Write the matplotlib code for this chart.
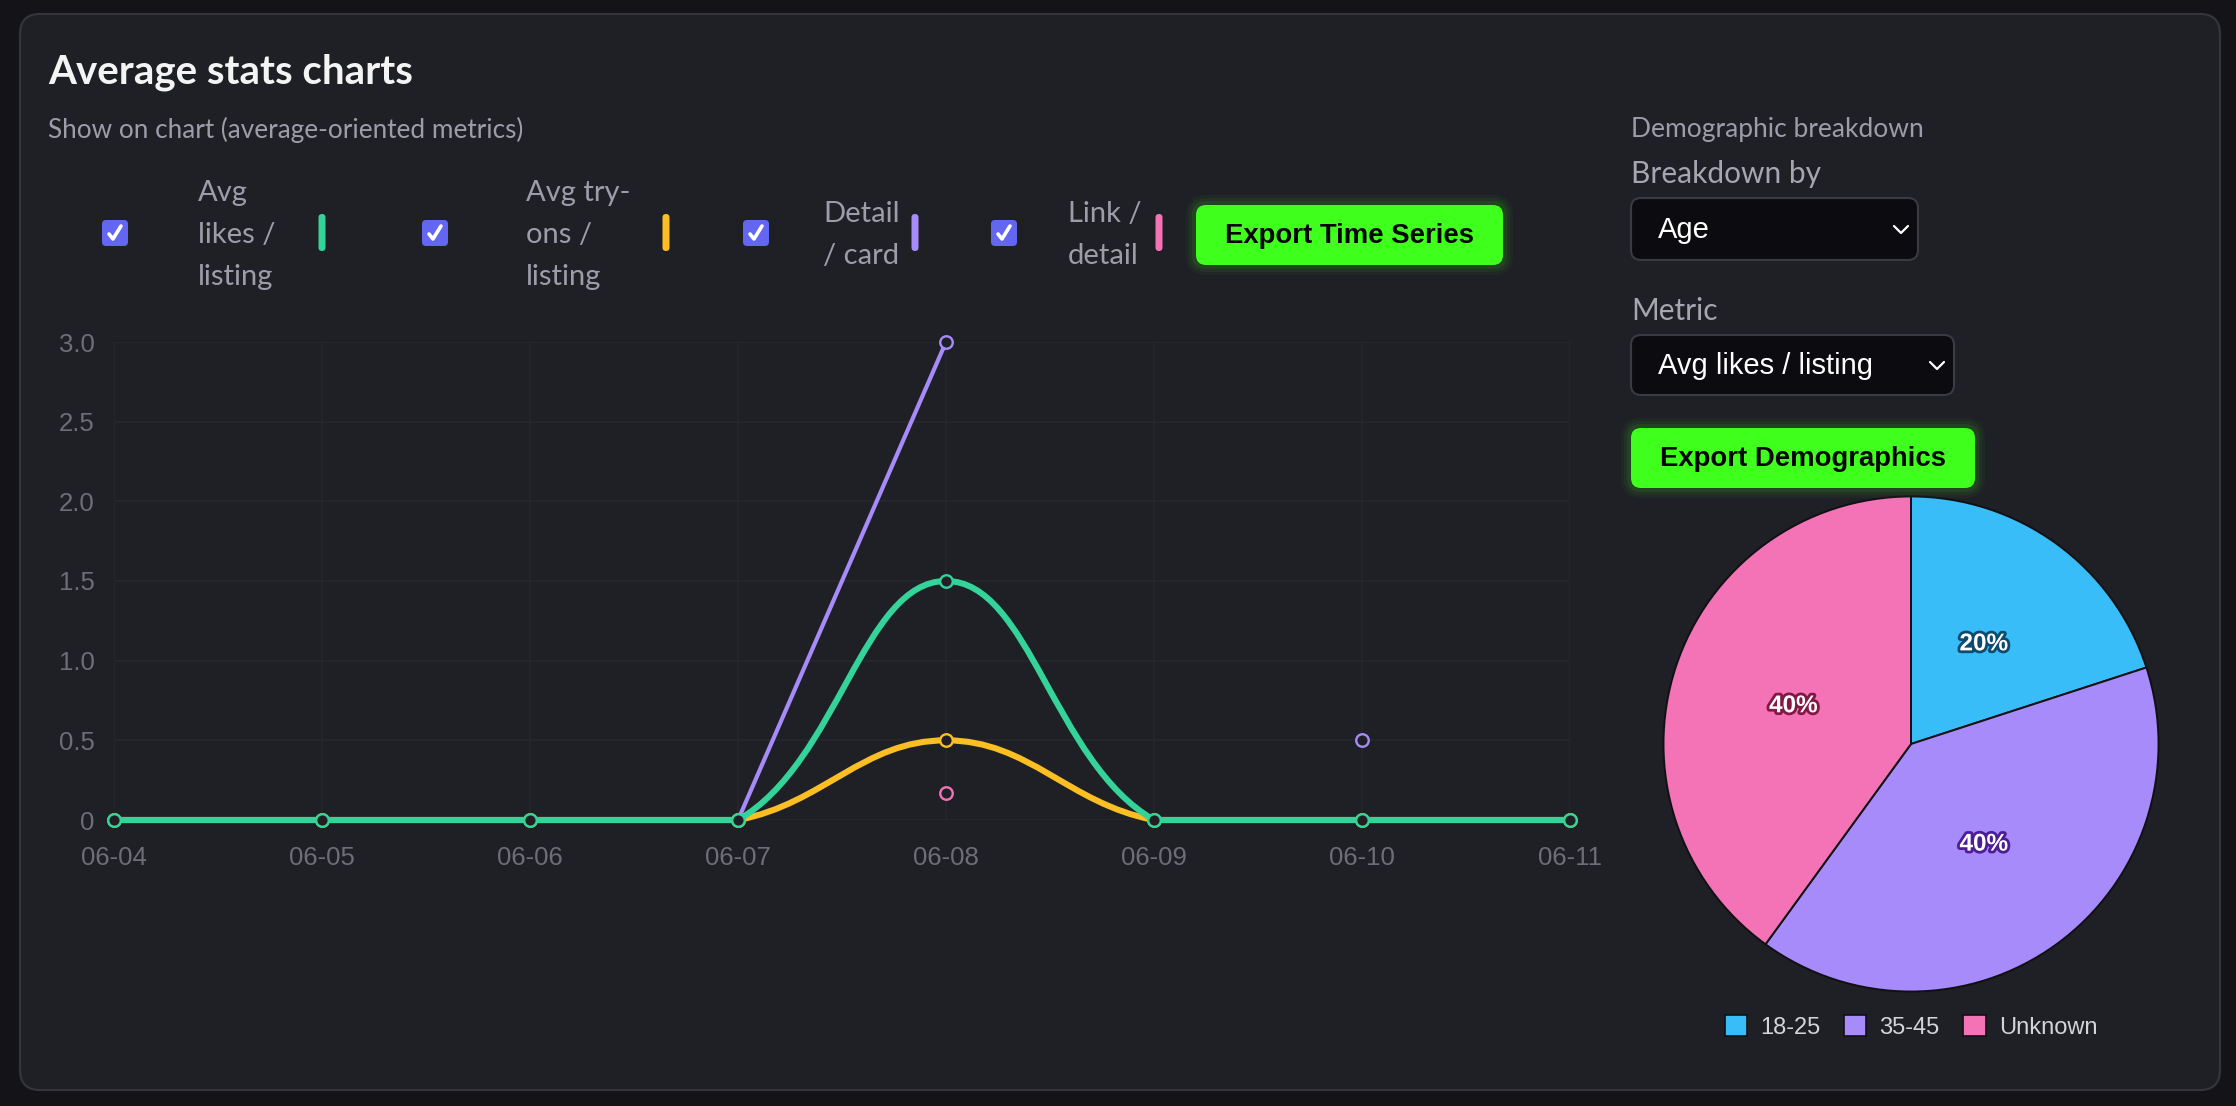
import numpy as np
import matplotlib
matplotlib.use("Agg")
import matplotlib.pyplot as plt
from matplotlib.patches import FancyBboxPatch, Rectangle, PathPatch
from matplotlib.path import Path
from matplotlib.lines import Line2D
from matplotlib.transforms import IdentityTransform
import matplotlib.patheffects as pe

W, H = 2236, 1106

# ---- data ----
dates = ["06-04", "06-05", "06-06", "06-07", "06-08", "06-09", "06-10", "06-11"]
nan = np.nan
avg_likes = [0, 0, 0, 0, 1.5, 0, 0, 0]
avg_tryons = [0, 0, 0, 0, 0.5, 0, 0, 0]
detail_card = [nan, nan, nan, 0, 3.0, nan, 0.5, nan]
link_detail = [nan, nan, nan, nan, 0.17, nan, nan, nan]

series_names = ["Avg\nlikes /\nlisting", "Avg try-\nons /\nlisting", "Detail\n/ card", "Link /\ndetail"]
series_colors = ["#34d399", "#fbbf24", "#a78bfa", "#f472b6"]

age_groups = ["18-25", "35-45", "Unknown"]
age_share = [20, 40, 40]
age_colors = ["#38bdf8", "#a78bfa", "#f472b6"]

UI_FONT = ["Lato", "DejaVu Sans"]
CHART_FONT = ["Liberation Sans", "DejaVu Sans"]
GREEN_BTN = "#3fff1c"

fig = plt.figure(figsize=(W / 100, H / 100), dpi=100)
fig.patch.set_facecolor("#131318")
ID = IdentityTransform()


def box(x0, y0, x1, y1, fc, ec="none", r=10, lw=1, alpha=1, z=1):
    # pixel coords, origin top-left
    p = FancyBboxPatch((x0, H - y1), x1 - x0, y1 - y0,
                       boxstyle="round,pad=0,rounding_size=%g" % r,
                       fc=fc, ec=ec, lw=lw, alpha=alpha, transform=ID, zorder=z)
    fig.add_artist(p)


def txt(x, y, s, **kw):
    kw.setdefault("va", "center")
    kw.setdefault("ha", "left")
    fig.text(x, H - y, s, transform=ID, **kw)


def poly(pts, color, lw, z=5):
    xs = [p[0] for p in pts]
    ys = [H - p[1] for p in pts]
    fig.add_artist(Line2D(xs, ys, color=color, lw=lw, transform=ID, zorder=z,
                          solid_capstyle="round", solid_joinstyle="round"))


def button(x0, y0, x1, y1, label):
    for k, a in [(10, 0.04), (7, 0.06), (4, 0.08)]:
        box(x0 - k, y0 - k, x1 + k, y1 + k, GREEN_BTN, r=10 + k, alpha=a, z=2)
    box(x0, y0, x1, y1, GREEN_BTN, r=10, z=3)
    txt((x0 + x1) / 2, (y0 + y1) / 2 + 1, label, ha="center", color="#050505",
        fontsize=19.8, fontweight="bold", family=CHART_FONT, zorder=4)


def dropdown(x0, y0, x1, y1, label):
    box(x0, y0, x1, y1, "#0b0b10", ec="#3a3b42", r=10, lw=1.5, z=3)
    txt(x0 + 27, (y0 + y1) / 2 + 1, label, color="white", fontsize=21,
        family=CHART_FONT, zorder=4)
    cx, cy = x1 - 17, (y0 + y1) / 2
    poly([(cx - 7, cy - 3), (cx, cy + 4), (cx + 7, cy - 3)], "white", 1.6)


# card
box(20, 14, 2220, 1090, "#1f2026", ec="#35363c", r=20, lw=1.5, z=0)

txt(48, 72, "Average stats charts", color="#f4f4f5", fontsize=29,
    fontweight="bold", family=UI_FONT)
txt(48, 130, "Show on chart (average-oriented metrics)", color="#9d9daa",
    fontsize=18.8, family=UI_FONT)

# checkbox row
cb_x = [115, 435, 756, 1004]
lbl_x = [198, 526, 823, 1068]
bar_x = [322, 666, 915, 1159]
for i in range(4):
    cx, cy = cb_x[i], 233
    box(cx - 13, cy - 13, cx + 13, cy + 13, "#6366f1", r=4, z=3)
    poly([(cx - 6, cy + 1), (cx - 2, cy + 6), (cx + 6, cy - 7)], "white", 2.6)
    lines = series_names[i].split("\n")
    top = 193 if len(lines) == 3 else 214
    for j, ln in enumerate(lines):
        txt(lbl_x[i], top + 42 * j, ln, color="#9d9daa", fontsize=21, family=UI_FONT)
    box(bar_x[i] - 3.5, 214, bar_x[i] + 3.5, 251, series_colors[i], r=3.5, z=3)

button(1196, 205, 1503, 265, "Export Time Series")

# right panel
txt(1631, 130, "Demographic breakdown", color="#9d9daa", fontsize=19, family=UI_FONT)
txt(1631, 174, "Breakdown by", color="#a6a6b2", fontsize=21.5, family=UI_FONT)
dropdown(1631, 198, 1918, 260, "Age")
txt(1631, 311, "Metric", color="#a6a6b2", fontsize=21.5, family=UI_FONT)
dropdown(1631, 335, 1954, 395, "Avg likes / listing")
button(1631, 428, 1975, 488, "Export Demographics")

# ---- line chart ----
ax = fig.add_axes([114 / W, 1 - 820 / H, (1570 - 114) / W, (820 - 342) / H])
ax.set_facecolor("none")
ax.set_xlim(0, len(dates) - 1)
ax.set_ylim(0, 3)
ax.set_xticks(range(len(dates)))
ax.set_xticklabels(dates)
yt = [0, 0.5, 1.0, 1.5, 2.0, 2.5, 3.0]
ax.set_yticks(yt)
ax.set_yticklabels(["0"] + ["%.1f" % v for v in yt[1:]])
for s in ax.spines.values():
    s.set_visible(False)
ax.grid(True, color="#27282e", lw=1.2)
ax.set_axisbelow(True)
ax.tick_params(length=0, colors="#6e6e76", labelsize=18.5, pad=14)
ax.tick_params(axis="x", pad=19)
for t in ax.get_xticklabels() + ax.get_yticklabels():
    t.set_family(CHART_FONT)


def spline_paths(xs, ys, tension=0.4):
    """Chart.js style bezier segments, computed in pixel space."""
    pts = ax.transData.transform(np.column_stack([xs, ys]))
    ok = ~np.isnan(np.asarray(ys, float))
    bb = ax.bbox
    n = len(xs)
    cps = {}
    for i in range(n):
        if not ok[i]:
            continue
        cur = pts[i]
        prev = pts[i - 1] if i > 0 and ok[i - 1] else cur
        nxt = pts[i + 1] if i < n - 1 and ok[i + 1] else cur
        d01 = np.hypot(*(cur - prev))
        d12 = np.hypot(*(nxt - cur))
        tot = d01 + d12
        s01 = d01 / tot if tot else 0
        s12 = d12 / tot if tot else 0
        cp_prev = cur - tension * s01 * (nxt - prev)
        cp_next = cur + tension * s12 * (nxt - prev)
        for c in (cp_prev, cp_next):
            c[0] = min(max(c[0], bb.x0), bb.x1)
            c[1] = min(max(c[1], bb.y0), bb.y1)
        cps[i] = (cp_prev, cp_next)
    inv = ax.transData.inverted()
    paths = []
    i = 0
    while i < n:
        if not ok[i]:
            i += 1
            continue
        j = i
        while j + 1 < n and ok[j + 1]:
            j += 1
        if j > i:
            verts = [pts[i]]
            codes = [Path.MOVETO]
            for k in range(i, j):
                verts += [cps[k][1], cps[k + 1][0], pts[k + 1]]
                codes += [Path.CURVE4] * 3
            paths.append(Path(inv.transform(np.array(verts)), codes))
        i = j + 1
    return paths


xs = np.arange(len(dates))
series = [avg_likes, avg_tryons, detail_card, link_detail]
widths = [4.4, 4.4, 3.0, 3.0]
for idx in [3, 2, 1, 0]:
    col = series_colors[idx]
    z = 10 - idx
    for p in spline_paths(xs, series[idx]):
        ax.add_patch(PathPatch(p, fc="none", ec=col, lw=widths[idx], zorder=z,
                               clip_on=False, capstyle="round", joinstyle="round"))
    ax.plot(xs, series[idx], ls="none", marker="o", ms=9, mfc="#1f2026",
            mec=col, mew=1.7, zorder=z + 0.5, clip_on=False)

# ---- pie ----
pcx, pcy, pr = 1911, 744, 250
pax = fig.add_axes([(pcx - pr) / W, (H - pcy - pr) / H, 2 * pr / W, 2 * pr / H])
wedges, _, autotexts = pax.pie(age_share, colors=age_colors, startangle=90,
                               counterclock=False, radius=1,
                               autopct=lambda v: "%d%%" % round(v), pctdistance=0.5,
                               wedgeprops=dict(edgecolor="#111114", linewidth=1.4))
for t, c in zip(autotexts, ["#0c4a6e", "#4c1d95", "#831843"]):
    t.set_color("white")
    t.set_fontsize(17.5)
    t.set_fontweight("bold")
    t.set_family(CHART_FONT)
    t.set_path_effects([pe.withStroke(linewidth=4, foreground=c)])
pax.set_xlim(-1.01, 1.01)
pax.set_ylim(-1.01, 1.01)
pax.set_aspect("equal")
pax.axis("off")

handles = [Rectangle((0, 0), 1, 1, fc=c, ec="#111114", lw=1.2) for c in age_colors]
leg = pax.legend(handles, age_groups, loc="center", bbox_to_anchor=(0.5, -0.066),
                 ncol=3, frameon=False, labelcolor="#d4d4d8",
                 handlelength=0.95, handleheight=0.95, handletextpad=0.55,
                 columnspacing=1.0, prop={"family": CHART_FONT, "size": 17})

fig.savefig("out.png", dpi=100, facecolor=fig.get_facecolor())
